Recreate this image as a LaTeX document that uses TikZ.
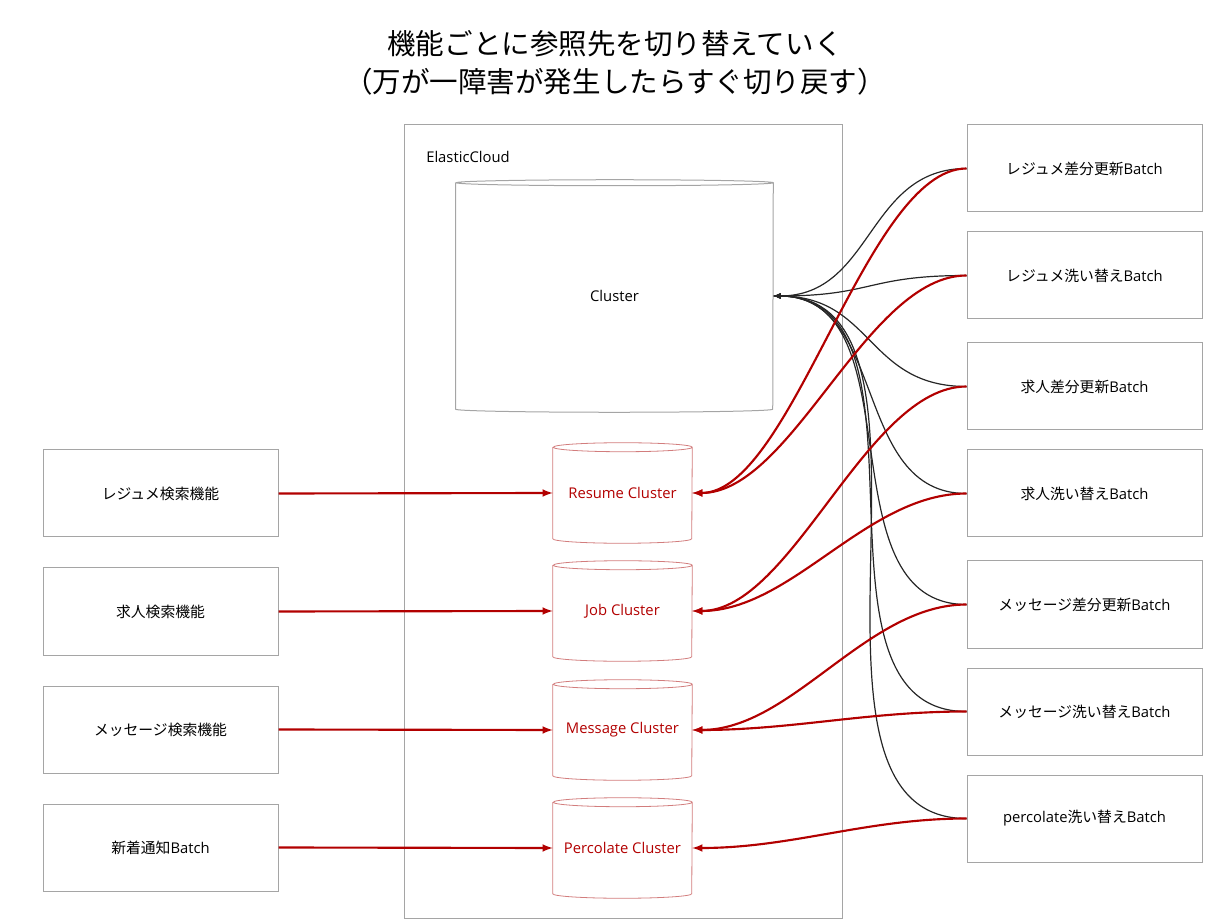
\documentclass[tikz,border=0pt]{standalone}
\usepackage{fontspec}
\setmainfont{Open Sans}
\newfontfamily\jp{Noto Sans CJK JP}
\usetikzlibrary{arrows}

\definecolor{dbred}{RGB}{178,0,0}
\definecolor{dbpink}{RGB}{210,125,125}
\definecolor{boxgray}{RGB}{165,165,165}

\tikzset{
  boxnode/.style={draw=boxgray, line width=0.75pt, minimum width=176.25pt,
    minimum height=65.25pt, inner sep=0pt, font=\fontsize{11.1}{13.5}\selectfont},
  dbtext/.style={inner sep=0pt, font=\fontsize{11.1}{13.5}\selectfont},
  feed/.style={draw=dbred, line width=1.6pt, -latex},
  sync/.style={draw=black!85, line width=0.9pt, -latex},
}

% cylinder: name, cx, cy, w, h, ry (px), line style, text style, text
\newcommand{\dbnode}[9]{%
  \pgfmathsetmacro{\dbrx}{#4*0.375}
  \pgfmathsetmacro{\dbry}{#6*0.75}
  \node[dbtext,#8,minimum width=#4*0.75pt,minimum height=#5*0.75pt] (#1) at (#2,#3) {#9};
  \draw[#7] ([yshift=-\dbry pt]#1.north west) -- ([yshift=\dbry pt]#1.south west)
    arc[start angle=180,end angle=360,x radius=\dbrx pt,y radius=\dbry pt]
    -- ([yshift=-\dbry pt]#1.north east)
    arc[start angle=0,end angle=360,x radius=\dbrx pt,y radius=\dbry pt];
}

\begin{document}
\begin{tikzpicture}[x=0.75pt,y=-0.75pt]
  \useasboundingbox (0,0) rectangle (1232,919);

  \node[align=center, font=\jp\fontsize{21.4}{28.5}\selectfont] (title) at (615,63)
    {機能ごとに参照先を切り替えていく\\（万が一障害が発生したらすぐ切り戻す）};

  % ElasticCloud
  \draw[draw=boxgray, line width=0.75pt] (404,125) rectangle (842,918);
  \node[dbtext, anchor=west] (cloudlbl) at (426,157) {ElasticCloud};

  \dbnode{cluster}{614.5}{296}{317}{232}{3}{draw=boxgray,line width=0.75pt}{}{Cluster}
  \dbnode{res}{622.5}{493}{139}{100}{4.5}{draw=dbpink,line width=0.6pt}{text=dbred}{Resume Cluster}
  \dbnode{job}{622.5}{611}{139}{100}{4.5}{draw=dbpink,line width=0.6pt}{text=dbred}{Job Cluster}
  \dbnode{msg}{622.5}{730}{139}{100}{4.5}{draw=dbpink,line width=0.6pt}{text=dbred}{Message Cluster}
  \dbnode{perc}{622.5}{848}{139}{100}{4.5}{draw=dbpink,line width=0.6pt}{text=dbred}{Percolate Cluster}

  % left side
  \node[boxnode] (lf1) at (160.5,493.5) {{\jp レジュメ検索機能}};
  \node[boxnode] (lf2) at (160.5,611.5) {{\jp 求人検索機能}};
  \node[boxnode] (lf3) at (160.5,729.5) {{\jp メッセージ検索機能}};
  \node[boxnode] (lf4) at (160.5,847.5) {{\jp 新着通知}Batch};

  % right side
  \node[boxnode] (rb1) at (1084.5,168.5) {{\jp レジュメ差分更新}Batch};
  \node[boxnode] (rb2) at (1084.5,275.5) {{\jp レジュメ洗い替え}Batch};
  \node[boxnode] (rb3) at (1084.5,386.5) {{\jp 求人差分更新}Batch};
  \node[boxnode] (rb4) at (1084.5,493.5) {{\jp 求人洗い替え}Batch};
  \node[boxnode] (rb5) at (1084.5,604.5) {{\jp メッセージ差分更新}Batch};
  \node[boxnode] (rb6) at (1084.5,711.5) {{\jp メッセージ洗い替え}Batch};
  \node[boxnode] (rb7) at (1084.5,818.5) {percolate{\jp 洗い替え}Batch};

  % old cluster
  \foreach \b/\d in {rb1/100,rb2/100,rb3/100,rb4/115,rb5/145,rb6/175,rb7/200}
    \draw[sync] (\b.west) .. controls +(-\d,0) and +(\d,0) .. (cluster.east);

  % new clusters
  \draw[feed] (lf1.east) -- (res.west);
  \draw[feed] (lf2.east) -- (job.west);
  \draw[feed] (lf3.east) -- (msg.west);
  \draw[feed] (lf4.east) -- (perc.west);
  \draw[feed] (rb1.west) .. controls +(-100,0) and +(100,0) .. (res.east);
  \draw[feed] (rb2.west) .. controls +(-100,0) and +(100,0) .. (res.east);
  \draw[feed] (rb3.west) .. controls +(-100,0) and +(100,0) .. (job.east);
  \draw[feed] (rb4.west) .. controls +(-100,0) and +(100,0) .. (job.east);
  \draw[feed] (rb5.west) .. controls +(-100,0) and +(100,0) .. (msg.east);
  \draw[feed] (rb6.west) .. controls +(-100,0) and +(100,0) .. (msg.east);
  \draw[feed] (rb7.west) .. controls +(-100,0) and +(100,0) .. (perc.east);
\end{tikzpicture}
\end{document}
